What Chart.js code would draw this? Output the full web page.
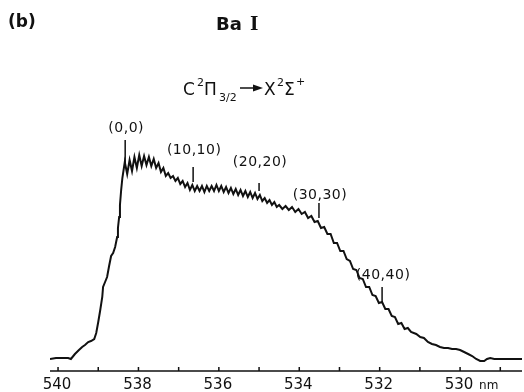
<!DOCTYPE html>
<html>
<head>
<meta charset="utf-8">
<script src="https://cdn.jsdelivr.net/npm/chart.js@4.4.0/dist/chart.umd.min.js"></script>
<style>
  html, body { margin: 0; padding: 0; background: #fff; }
  #wrap { width: 524px; height: 392px; }
</style>
</head>
<body>
<div id="wrap"><canvas id="spectrum" width="524" height="392"></canvas></div>
<script>
"use strict";

// Emission spectrum, wavelength in nm (axis runs right to left)
const wavelengthNm = [
    // baseline and rising edge
    540.20, 540.05, 539.90, 539.75, 539.68, 539.58, 539.48, 539.40, 539.33, 539.25,
    539.18, 539.10, 539.05, 539.00, 538.95, 538.90, 538.88, 538.83, 538.78, 538.73,
    538.68, 538.63, 538.58, 538.53, 538.51, 538.48, 538.46, 538.43,
    // band heads
    538.40, 538.34, 538.28, 538.22, 538.16, 538.10, 538.04, 537.98, 537.92, 537.86,
    537.80, 537.74, 537.68, 537.62, 537.56, 537.50, 537.44, 537.38, 537.32, 537.26,
    537.20, 537.14, 537.08, 537.02, 536.96, 536.90, 536.84, 536.78, 536.72, 536.66,
    536.60, 536.54, 536.48, 536.42, 536.36, 536.30, 536.24, 536.18, 536.12, 536.06,
    536.00, 535.94, 535.88, 535.82, 535.76, 535.70, 535.64, 535.58, 535.52, 535.46,
    535.40, 535.34, 535.28, 535.22, 535.16, 535.10, 535.04, 534.98, 534.92, 534.86,
    534.80, 534.74, 534.68, 534.62, 534.56, 534.50,
    // falling shoulder
    534.42, 534.34, 534.26, 534.18, 534.10, 534.02, 533.94, 533.86, 533.78, 533.70,
    533.62, 533.54, 533.46, 533.38, 533.30, 533.22, 533.14, 533.06, 532.98, 532.90,
    532.82, 532.74, 532.66, 532.58, 532.50, 532.42, 532.34, 532.26, 532.18, 532.10,
    532.02, 531.94, 531.86, 531.78, 531.70, 531.62, 531.54, 531.46, 531.38, 531.30,
    // tail
    531.22, 531.09, 530.99, 530.90, 530.80, 530.70, 530.60, 530.50, 530.40, 530.30,
    530.20, 530.10, 530.00, 529.90, 529.80, 529.70, 529.60, 529.50, 529.40, 529.33,
    529.25, 529.15, 529.00, 528.81, 528.61, 528.46
];

const intensity = [
    12, 13, 13, 13, 12, 17, 21, 24, 26, 29,
    30, 32, 38, 49, 61, 74, 84, 89, 94, 105,
    115, 118, 124, 134, 143, 154, 166, 181,
    193, 209, 197, 211, 200, 214, 203, 216, 205, 215,
    206, 214, 205, 212, 203, 208, 199, 203, 195, 198,
    193, 195, 190, 193, 187, 190, 184, 188, 181, 186,
    180, 185, 180, 185, 179, 185, 180, 185, 180, 186,
    180, 185, 179, 184, 178, 183, 177, 182, 176, 181,
    175, 180, 174, 179, 173, 178, 172, 176, 170, 173,
    168, 171, 166, 169, 164, 166,
    162, 165, 161, 164, 159, 162, 157, 159, 153, 155,
    149, 150, 143, 144, 137, 137, 128, 128, 120, 120,
    112, 110, 102, 101, 93, 92, 84, 84, 76, 75,
    68, 69, 62, 62, 55, 54, 47, 48, 42, 43,
    39, 37, 34, 33, 29, 27, 26, 24, 23, 23,
    22, 22, 21, 19, 17, 15, 12, 10, 10, 12,
    13, 12, 12, 12, 12, 12
];

// (v',v'') band markers
const bandLabels = ["(0,0)", "(10,10)", "(20,20)", "(30,30)", "(40,40)"];
const bandWavelengths = [538.33, 536.64, 535.00, 533.51, 531.94];
const bandMarkTop = [231, 204, 188, 168, 84];
const bandMarkBottom = [208, 189, 180, 153, 68];
const bandLabelLevel = [243, 221, 209, 176, 96];

// x axis
const tickValues = [540, 539, 538, 537, 536, 535, 534, 533, 532, 531, 530, 529];
const tickLabels = ["540", "538", "536", "534", "532", "530"];
const tickLabelValues = [540, 538, 536, 534, 532, 530];

const ink = "#111";
const font = "'DejaVu Sans', sans-serif";

const decorations = {
    id: "decorations",
    afterDatasetsDraw(chart) {
        const { ctx, chartArea, scales: { x, y } } = chart;
        ctx.save();
        ctx.strokeStyle = ink;
        ctx.fillStyle = ink;

        // axis line + ticks pointing up
        const base = chartArea.bottom;
        ctx.lineWidth = 1.5;
        ctx.beginPath();
        ctx.moveTo(chartArea.left, base);
        ctx.lineTo(chartArea.right, base);
        tickValues.forEach(v => {
            const px = x.getPixelForValue(v);
            ctx.moveTo(px, base);
            ctx.lineTo(px, base - 4);
        });
        ctx.stroke();

        ctx.font = "15px " + font;
        ctx.textAlign = "center";
        ctx.textBaseline = "middle";
        tickLabelValues.forEach((v, i) => {
            ctx.fillText(tickLabels[i], x.getPixelForValue(v) - 1, base + 14);
        });
        ctx.font = "12px " + font;
        ctx.textAlign = "left";
        ctx.fillText("nm", x.getPixelForValue(530) + 19, base + 15);

        // band markers
        ctx.lineWidth = 1.5;
        ctx.beginPath();
        bandWavelengths.forEach((w, i) => {
            const px = x.getPixelForValue(w);
            ctx.moveTo(px, y.getPixelForValue(bandMarkTop[i]));
            ctx.lineTo(px, y.getPixelForValue(bandMarkBottom[i]));
        });
        ctx.stroke();

        ctx.font = "14px " + font;
        ctx.letterSpacing = "0.5px";
        ctx.textAlign = "center";
        ctx.textBaseline = "middle";
        bandLabels.forEach((t, i) => {
            ctx.fillText(t, x.getPixelForValue(bandWavelengths[i]) + 1, y.getPixelForValue(bandLabelLevel[i]));
        });

        // titles
        ctx.letterSpacing = "0px";
        ctx.textAlign = "left";
        ctx.textBaseline = "alphabetic";
        ctx.font = "bold 17px " + font;
        ctx.fillText("(b)", 8, 27);
        ctx.font = "bold 18px " + font;
        ctx.fillText("Ba", 216, 30);
        ctx.font = "bold 18px 'DejaVu Serif', serif";
        ctx.fillText("I", 250, 30);

        // transition C2Pi3/2 -> X2Sigma+
        const big = "17px " + font, small = "11px " + font;
        const pieces = [
            ["C", big, 183, 95], ["2", small, 197, 86], ["\u03A0", big, 204, 95],
            ["3/2", small, 219, 101], ["X", big, 264, 95], ["2", small, 277, 86],
            ["\u03A3", big, 284, 95], ["+", small, 296, 85]
        ];
        pieces.forEach(p => {
            ctx.font = p[1];
            ctx.fillText(p[0], p[2], p[3]);
        });
        // arrow
        ctx.lineWidth = 1.5;
        ctx.beginPath();
        ctx.moveTo(240, 88);
        ctx.lineTo(255, 88);
        ctx.stroke();
        ctx.beginPath();
        ctx.moveTo(263, 88);
        ctx.lineTo(253, 84.5);
        ctx.lineTo(253, 91.5);
        ctx.closePath();
        ctx.fill();

        ctx.restore();
    }
};

const points = wavelengthNm.map((w, i) => ({ x: w, y: intensity[i] }));

new Chart(document.getElementById("spectrum"), {
    type: "line",
    data: {
        datasets: [{
            data: points,
            borderColor: ink,
            borderWidth: 2,
            pointRadius: 0,
            tension: 0,
            fill: false
        }]
    },
    options: {
        responsive: false,
        animation: false,
        devicePixelRatio: 1,
        layout: { padding: { left: 50, right: 2, top: 140, bottom: 21 } },
        plugins: { legend: { display: false }, tooltip: { enabled: false } },
        scales: {
            x: { type: "linear", reverse: true, min: 528.46, max: 540.2, display: false },
            y: { min: 0, max: 231, display: false }
        }
    },
    plugins: [decorations]
});
</script>
</body>
</html>
